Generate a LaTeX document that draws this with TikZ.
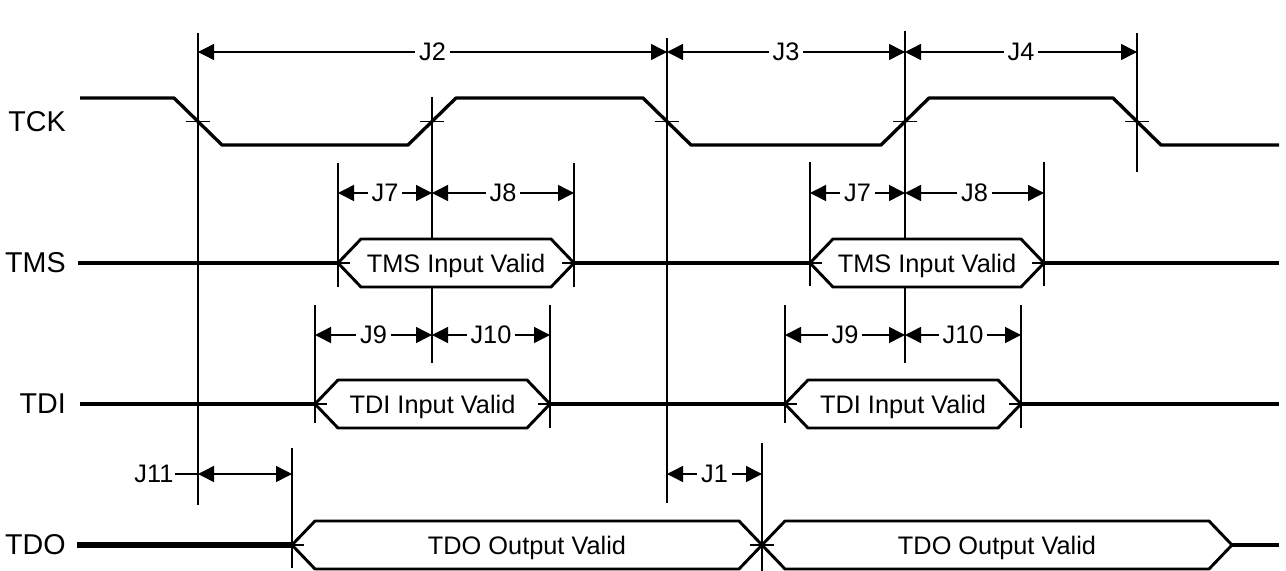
\documentclass[tikz,border=0pt]{standalone}
\usepackage{fontspec}
\setmainfont{Liberation Sans}
\usetikzlibrary{arrows.meta}
\begin{document}
\begin{tikzpicture}[x=0.75pt,y=-0.75pt,
				wave/.style={line width=2.5pt,line join=round},
				busline/.style={line width=2.2pt,line join=round},
				guideline/.style={line width=1pt},
				dimline/.style={line width=1.1pt,{Triangle[length=12pt,width=12pt]}-{Triangle[length=12pt,width=12pt]}},
				dimlabel/.style={fill=white,inner sep=3pt,font=\fontsize{19}{21}\selectfont},
				buslabel/.style={inner sep=0pt,text depth=0pt,text height=13.5pt,font=\fontsize{19}{21}\selectfont},
				siglabel/.style={anchor=east,inner sep=0pt,font=\fontsize{21.5}{24}\selectfont}]
\useasboundingbox (0,0) rectangle (1286,571);
\node[siglabel] (tck) at (66,121.5) {TCK};
\node[siglabel] (tms) at (66,263) {TMS};
\node[siglabel] (tdi) at (66,404) {TDI};
\node[siglabel] (tdo) at (66,545) {TDO};
\foreach \x/\a/\b in {198/33/505, 432/97/363, 667/38/503, 905/31/363, 1137/33/172,
	338/163/287, 574/163/287, 810/162/286, 1044/162/286,
	315/305/423, 550/305/428, 785/305/423, 1021/305/428,
	292/448/568, 762/443/571}
	\draw[guideline] (\x,\a) -- (\x,\b);
\draw[wave] (80,98) -- (174,98) -- (222,145) -- (408,145) -- (456,98) -- (643,98) -- (691,145)
	-- (881,145) -- (929,98) -- (1113,98) -- (1161,145) -- (1279,145);
\draw[wave] (78,263) -- (338,263) (574,263) -- (810,263) (1044,263) -- (1279,263);
\draw[wave] (80,404) -- (315,404) (550,404) -- (785,404) (1021,404) -- (1279,404);
\draw[line width=4pt] (77,545) -- (292,545);
\draw[wave] (1232,545) -- (1279,545);
\foreach \a/\b/\y/\t [count=\i] in {338/574/263/TMS Input Valid, 810/1044/263/TMS Input Valid,
	315/550/404/TDI Input Valid, 785/1021/404/TDI Input Valid,
	292/762/545/TDO Output Valid, 762/1232/545/TDO Output Valid}
	\draw[busline,fill=white] (\a,\y) -- (\a+23,\y-24) -- (\b-23,\y-24) -- (\b,\y) -- (\b-23,\y+24) -- (\a+23,\y+24) -- cycle
		node[buslabel] (bus\i) at ({(\a+\b)/2},\y) {\t};
\foreach \x/\y in {198/121.5, 432/121.5, 667/121.5, 905/121.5, 1137/121.5,
	338/263, 574/263, 810/263, 1044/263, 315/404, 550/404, 785/404, 1021/404,
	292/545, 762/545}
	\draw[guideline] (\x-12,\y) -- (\x+12,\y);
\foreach \a/\b/\y/\t [count=\i] in {198/667/52/J2, 667/905/52/J3, 905/1137/52/J4,
	338/432/193/J7, 432/574/193/J8, 810/905/193/J7, 905/1044/193/J8,
	315/432/335/J9, 432/550/335/J10, 785/905/335/J9, 905/1021/335/J10,
	667/762/474/J1}
	\draw[dimline] (\a,\y) -- node[dimlabel] (dim\i) {\t} (\b,\y);
\draw[dimline] (198,474) -- (292,474);
\node[dimlabel,fill=none,anchor=east,inner sep=1pt] (j11) at (175,474) {J11};
\draw[guideline] (j11.east) -- (198,474);
\end{tikzpicture}
\end{document}
